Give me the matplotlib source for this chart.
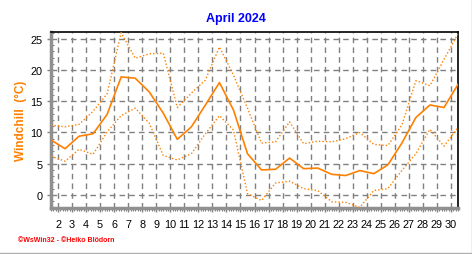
import numpy as np
import matplotlib
matplotlib.use("Agg")
import matplotlib.pyplot as plt
from matplotlib.ticker import MultipleLocator

# daily windchill values, April 2024
days = list(range(1, 31))
wc_mean = [8.8, 7.4, 9.4, 9.8, 12.9, 18.9, 18.7, 16.5, 13.1, 8.9,
           10.9, 14.4, 18.0, 13.6, 6.6, 4.0, 4.1, 5.9, 4.2, 4.3,
           3.3, 3.1, 3.9, 3.4, 4.8, 8.3, 12.4, 14.4, 14.0, 17.7]
wc_max = [11.2, 10.9, 11.3, 13.4, 16.2, 26.0, 21.9, 22.6, 22.7, 14.0,
          16.3, 18.4, 23.7, 19.2, 13.9, 8.3, 8.5, 11.7, 8.2, 8.6,
          8.5, 9.0, 10.0, 8.1, 7.9, 11.2, 18.3, 17.5, 21.7, 25.8]
wc_min = [6.2, 5.4, 7.3, 6.5, 10.1, 12.7, 13.9, 11.5, 6.3, 5.6,
          6.6, 9.8, 12.7, 10.4, 0.2, -0.9, 1.9, 2.2, 1.0, 0.7,
          -1.1, -1.2, -2.0, 0.7, 1.0, 3.9, 6.6, 10.5, 7.8, 10.8]
day_ticks = list(range(2, 31))
y_ticks = [0, 5, 10, 15, 20, 25]

ORANGE = "#ff8000"
GRID = "#808080"

plt.rcParams["font.family"] = ["Liberation Sans", "DejaVu Sans"]

fig = plt.figure(figsize=(4.72, 2.55), dpi=100)
ax = fig.add_axes([51 / 472, 1 - 209 / 255, 407 / 472, 176 / 255])

# values are plotted in the middle of each day
x = np.array(days) + 0.5
ax.plot(x, wc_mean, color=ORANGE, lw=1.2, zorder=3)
ax.plot(x, wc_max, color=ORANGE, lw=1.0, ls=(0, (1, 1.5)), zorder=3)
ax.plot(x, wc_min, color=ORANGE, lw=1.0, ls=(0, (1, 1.5)), zorder=3)

ax.set_xlim(1.5, 30.5)
ax.set_ylim(-2.1, 26.1)
ax.set_xticks(day_ticks)
ax.set_xticklabels([str(d) for d in day_ticks])
ax.set_yticks(y_ticks)
ax.xaxis.set_minor_locator(MultipleLocator(1 / 6))
ax.yaxis.set_minor_locator(MultipleLocator(1))
ax.tick_params(axis="x", which="major", labelsize=7.8, color=GRID,
               length=3, width=1, pad=5)
ax.tick_params(axis="y", which="major", labelsize=7.8, color=GRID,
               length=3, width=1, pad=3)
ax.tick_params(axis="x", which="minor", color=GRID, length=2, width=0.8)
ax.tick_params(axis="y", which="minor", color=GRID, length=2, width=0.8,
               direction="in")

ax.grid(True, which="major", color=GRID, ls=(0, (4, 3)), lw=1)

for side in ("left", "bottom"):
    ax.spines[side].set_color("#909090")
    ax.spines[side].set_linewidth(2.5)
for side in ("top", "right"):
    ax.spines[side].set_color("black")
    ax.spines[side].set_linewidth(1.2)

ax.set_ylabel("Windchill  (°C)", color=ORANGE, fontsize=8.5,
              fontweight="bold")
ax.yaxis.set_label_coords(-24 / 407, 0.5)

fig.text(0.5, 1 - 19 / 255, "April 2024", color="#0000ff", fontsize=9,
         fontweight="bold", ha="center", va="center")
fig.text(18 / 472, 1 - 241 / 255, "©WsWin32 - ©Heiko Blödorn",
         color="#ff0000", fontsize=5, fontweight="bold",
         ha="left", va="center")

# light outer frame on right and bottom edges
fig.add_artist(plt.Line2D([471.5 / 472, 471.5 / 472], [0, 1],
                          color="#b0b0b0", lw=1, transform=fig.transFigure))
fig.add_artist(plt.Line2D([0, 1], [1.5 / 255, 1.5 / 255],
                          color="#b0b0b0", lw=1, transform=fig.transFigure))

fig.savefig("out.png", dpi=100)
